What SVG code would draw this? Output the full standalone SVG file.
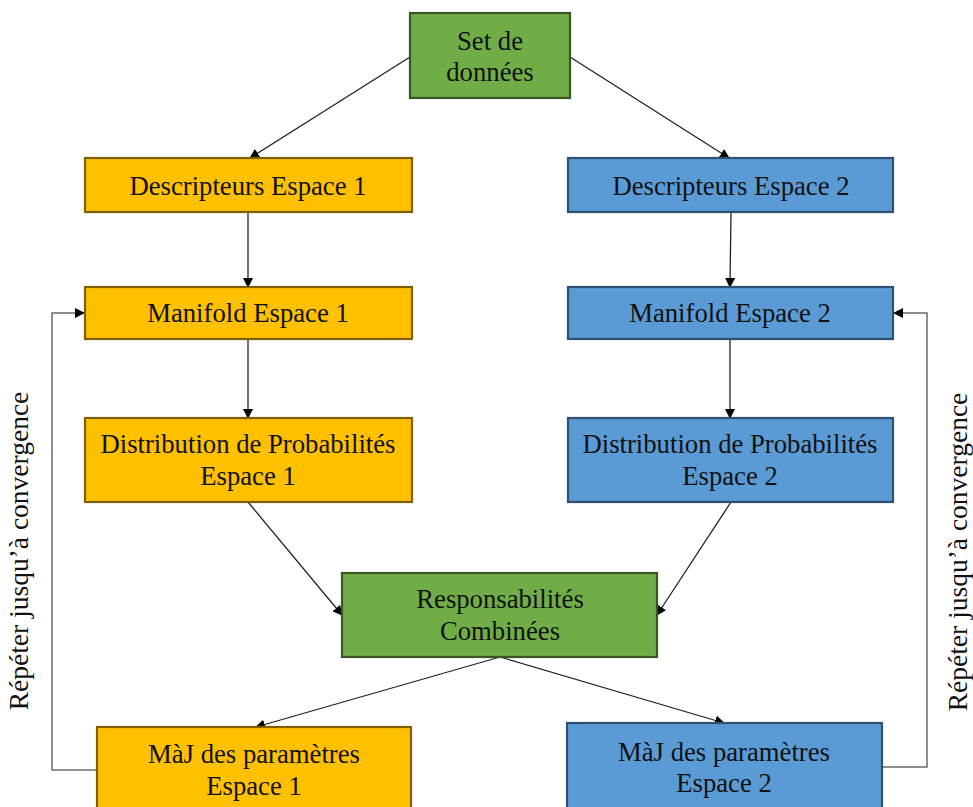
<svg xmlns="http://www.w3.org/2000/svg" width="973" height="807" viewBox="0 0 973 807">
  <style>
    .box { stroke-width: 2.2; }
    .orange { fill: #FFC000; stroke: #7F6000; }
    .blue { fill: #5B9BD5; stroke: #2F5070; }
    .green { fill: #70AD47; stroke: #375623; }
    .lbl { font-family: "Liberation Serif", "Times New Roman", serif; font-size: 26.7px; fill: #111; text-anchor: middle; }
    .side { font-size: 27.5px; }
    .edge { stroke: #222; stroke-width: 1.3; fill: none; }
    .loop { stroke: #6b6b6b; stroke-width: 1.5; fill: none; }
  </style>
  <defs>
    <marker id="arrow" markerWidth="10" markerHeight="10" refX="9" refY="5" orient="auto" markerUnits="userSpaceOnUse">
      <path d="M0,0 L10,5 L0,10 z" fill="#000"/>
    </marker>
  </defs>
  <rect width="973" height="807" fill="#fff"/>

  <g id="connectors">
    <line class="edge" x1="410" y1="57" x2="250" y2="158" marker-end="url(#arrow)"/>
    <line class="edge" x1="570" y1="57" x2="729" y2="158" marker-end="url(#arrow)"/>
    <line class="edge" x1="248" y1="212" x2="248" y2="287" marker-end="url(#arrow)"/>
    <line class="edge" x1="731" y1="212" x2="730" y2="287" marker-end="url(#arrow)"/>
    <line class="edge" x1="248" y1="339" x2="248" y2="418" marker-end="url(#arrow)"/>
    <line class="edge" x1="730" y1="339" x2="730" y2="418" marker-end="url(#arrow)"/>
    <line class="edge" x1="248" y1="502" x2="342" y2="615" marker-end="url(#arrow)"/>
    <line class="edge" x1="731" y1="502" x2="657" y2="615" marker-end="url(#arrow)"/>
    <line class="edge" x1="500" y1="657" x2="256" y2="727" marker-end="url(#arrow)"/>
    <line class="edge" x1="500" y1="657" x2="724" y2="723" marker-end="url(#arrow)"/>
    <polyline class="loop" points="97,770 52,770 52,313 84,313" marker-end="url(#arrow)"/>
    <polyline class="loop" points="882,767 927,767 927,313 894,313" marker-end="url(#arrow)"/>
  </g>

  <g id="set-donnees">
    <rect class="box green" x="410" y="13" width="160" height="85"/>
    <text class="lbl" x="490" y="50">Set de</text>
    <text class="lbl" x="490" y="81">données</text>
  </g>

  <g id="descripteurs-1">
    <rect class="box orange" x="85" y="158" width="327" height="54"/>
    <text class="lbl" x="248" y="195">Descripteurs Espace 1</text>
  </g>
  <g id="descripteurs-2">
    <rect class="box blue" x="568" y="158" width="325" height="54"/>
    <text class="lbl" x="731" y="195">Descripteurs Espace 2</text>
  </g>

  <g id="manifold-1">
    <rect class="box orange" x="85" y="287" width="327" height="52"/>
    <text class="lbl" x="248" y="322">Manifold Espace 1</text>
  </g>
  <g id="manifold-2">
    <rect class="box blue" x="568" y="287" width="325" height="52"/>
    <text class="lbl" x="730" y="322">Manifold Espace 2</text>
  </g>

  <g id="distribution-1">
    <rect class="box orange" x="85" y="418" width="327" height="84"/>
    <text class="lbl" x="248" y="453">Distribution de Probabilités</text>
    <text class="lbl" x="248" y="485">Espace 1</text>
  </g>
  <g id="distribution-2">
    <rect class="box blue" x="568" y="418" width="325" height="84"/>
    <text class="lbl" x="730" y="453">Distribution de Probabilités</text>
    <text class="lbl" x="730" y="485">Espace 2</text>
  </g>

  <g id="responsabilites">
    <rect class="box green" x="342" y="573" width="315" height="84"/>
    <text class="lbl" x="500" y="608">Responsabilités</text>
    <text class="lbl" x="500" y="640">Combinées</text>
  </g>

  <g id="maj-1">
    <rect class="box orange" x="97" y="727" width="314" height="95"/>
    <text class="lbl" x="254" y="763">MàJ des paramètres</text>
    <text class="lbl" x="254" y="795">Espace 1</text>
  </g>
  <g id="maj-2">
    <rect class="box blue" x="567" y="723" width="315" height="99"/>
    <text class="lbl" x="724" y="761">MàJ des paramètres</text>
    <text class="lbl" x="724" y="792">Espace 2</text>
  </g>

  <g id="repeat-labels">
    <text class="lbl side" transform="translate(28,551) rotate(-90)">Répéter jusqu’à convergence</text>
    <text class="lbl side" transform="translate(967,552) rotate(-90)">Répéter jusqu’à convergence</text>
  </g>
</svg>
